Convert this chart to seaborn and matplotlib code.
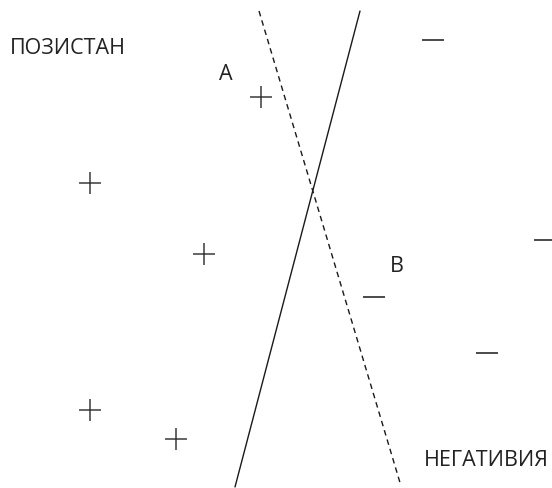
import matplotlib
matplotlib.use("Agg")
import matplotlib.pyplot as plt
import seaborn as sns
import pandas as pd

# Data (in image-pixel-like coordinates: x to the right, y downward)
plus_x = [261, 90, 204, 90, 176]
plus_y = [98, 184, 255, 411, 440]
minus_x = [433, 545, 374, 487]
minus_y = [41, 241, 298, 354]

solid_x = [360, 235]
solid_y = [12, 488]
dashed_x = [259, 401]
dashed_y = [12, 487]

labels = ["ПОЗИСТАН", "A", "B", "НЕГАТИВИЯ"]
label_x = [10, 219, 390, 549]
label_y = [48, 74, 267, 461]
label_ha = ["left", "left", "left", "right"]

sns.set_theme(style="white")
plt.rcParams['font.family'] = ['Open Sans', 'DejaVu Sans']

fig = plt.figure(figsize=(5.52, 4.89), dpi=100)
ax = fig.add_axes([0, 0, 1, 1])

pts = pd.DataFrame({
    "x": plus_x + minus_x,
    "y": plus_y + minus_y,
    "kind": ["+"] * len(plus_x) + ["-"] * len(minus_x),
})
sns.scatterplot(data=pts[pts.kind == "+"], x="x", y="y", marker="+", s=250,
                color="#3a3a3a", linewidth=1.1, ax=ax, legend=False)
sns.scatterplot(data=pts[pts.kind == "-"], x="x", y="y", marker="_", s=250,
                color="#4a4a4a", linewidth=1.4, ax=ax, legend=False)

lines = pd.DataFrame({
    "x": solid_x + dashed_x,
    "y": solid_y + dashed_y,
    "line": ["solid"] * 2 + ["dashed"] * 2,
})
sns.lineplot(data=lines[lines.line == "solid"], x="x", y="y", sort=False,
             color="#1a1a1a", linewidth=1.0, ax=ax, legend=False)
sns.lineplot(data=lines[lines.line == "dashed"], x="x", y="y", sort=False,
             color="#1a1a1a", linewidth=1.0, ax=ax, legend=False,
             linestyle=(0, (4, 3)))

for t, x, y, ha in zip(labels, label_x, label_y, label_ha):
    ax.text(x, y, t, fontsize=15.5, color="#222222", ha=ha, va="center")

ax.set_xlim(0, 552)
ax.set_ylim(489, 0)
ax.axis("off")

fig.savefig("out.png", dpi=100, facecolor="white")
